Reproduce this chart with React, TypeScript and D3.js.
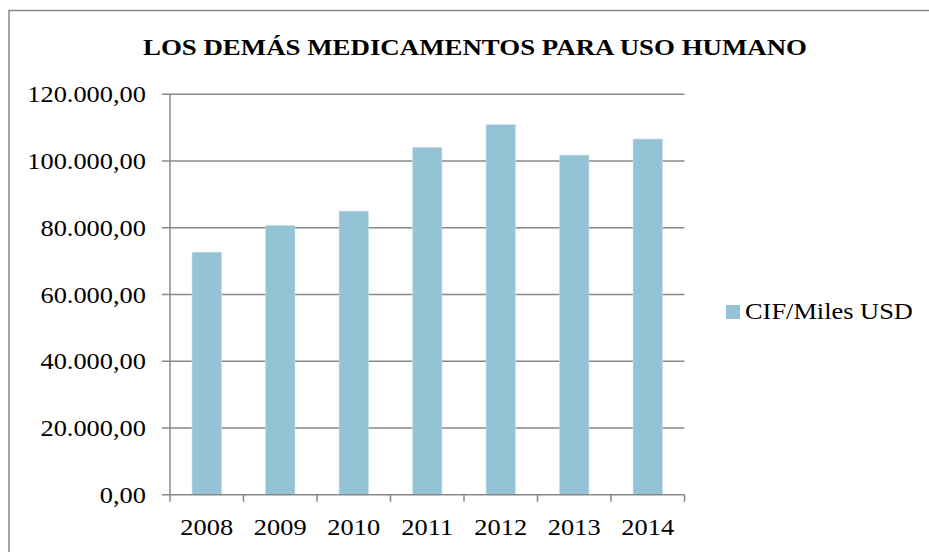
import React from 'react';
import * as d3 from 'd3';

// datos
const years = ['2008', '2009', '2010', '2011', '2012', '2013', '2014'];
const cifValues = [72700, 80700, 85000, 104100, 110900, 101800, 106600];
const yTicks = [0, 20000, 40000, 60000, 80000, 100000, 120000];
const seriesName = 'CIF/Miles USD';
const title = 'LOS DEMÁS MEDICAMENTOS PARA USO HUMANO';

const W = 929;
const H = 552;
const left = 170, right = 684.5, top = 94.3, bottom = 494.8;

const esLocale = d3.formatLocale({decimal: ',', thousands: '.', grouping: [3], currency: ['', '']});
const fmt = esLocale.format(',.2f');

// el texto del original sale algo ensanchado
const stretch = (x: number, y: number, k = 1.1) => `translate(${x},${y}) scale(${k},1)`;

const App = () => {
    const x = d3.scaleBand()
        .domain(years)
        .range([left, right])
        .paddingInner(0.6)
        .paddingOuter(0.3);
    const y = d3.scaleLinear().domain([0, 120000]).range([bottom, top]);

    const step = x.step();
    const tickXs = d3.range(years.length + 1).map(i => left + i * step);
    const font = '"Liberation Serif", "Times New Roman", serif';

    return (
        <svg width={W} height={H} style={{position: 'absolute', left: 0, top: 0}} fontFamily={font}>
            <rect x={0} y={0} width={W} height={H} fill="#fff"/>
            {/* marco */}
            <path d={`M9,${H} V10.5 H${W}`} fill="none" stroke="#888" strokeWidth={1.5}/>
            <text transform={stretch(475, 54.5, 1.12)} textAnchor="middle" fontSize={24} fontWeight="bold">{title}</text>
            {/* rejilla */}
            {yTicks.map(t => (
                <g key={t}>
                    <line x1={162} x2={t === 0 ? left : right} y1={y(t)} y2={y(t)} stroke="#888" strokeWidth={1.5}/>
                    <text transform={stretch(146, y(t) + 8)} textAnchor="end" fontSize={24}>{fmt(t)}</text>
                </g>
            ))}
            {/* barras */}
            {cifValues.map((v, i) => (
                <rect key={years[i]} x={x(years[i])} y={y(v)} width={x.bandwidth()} height={bottom - y(v)}
                      fill="#93c3d5" stroke="#c8e0ea" strokeWidth={0.6}/>
            ))}
            {/* ejes */}
            <line x1={left} x2={left} y1={top} y2={bottom} stroke="#888" strokeWidth={1.5}/>
            <line x1={left} x2={right} y1={bottom} y2={bottom} stroke="#888" strokeWidth={1.5}/>
            {tickXs.map((tx, i) => (
                <line key={i} x1={tx} x2={tx} y1={bottom} y2={bottom + 7} stroke="#888" strokeWidth={1.5}/>
            ))}
            {years.map(yr => (
                <text key={yr} transform={stretch((x(yr) as number) + x.bandwidth() / 2, 535)} textAnchor="middle" fontSize={24}>{yr}</text>
            ))}
            {/* leyenda */}
            <rect x={726} y={305} width={14} height={14} fill="#93c3d5"/>
            <text transform={stretch(745, 319)} fontSize={24}>{seriesName}</text>
        </svg>
    );
};

export default App;
